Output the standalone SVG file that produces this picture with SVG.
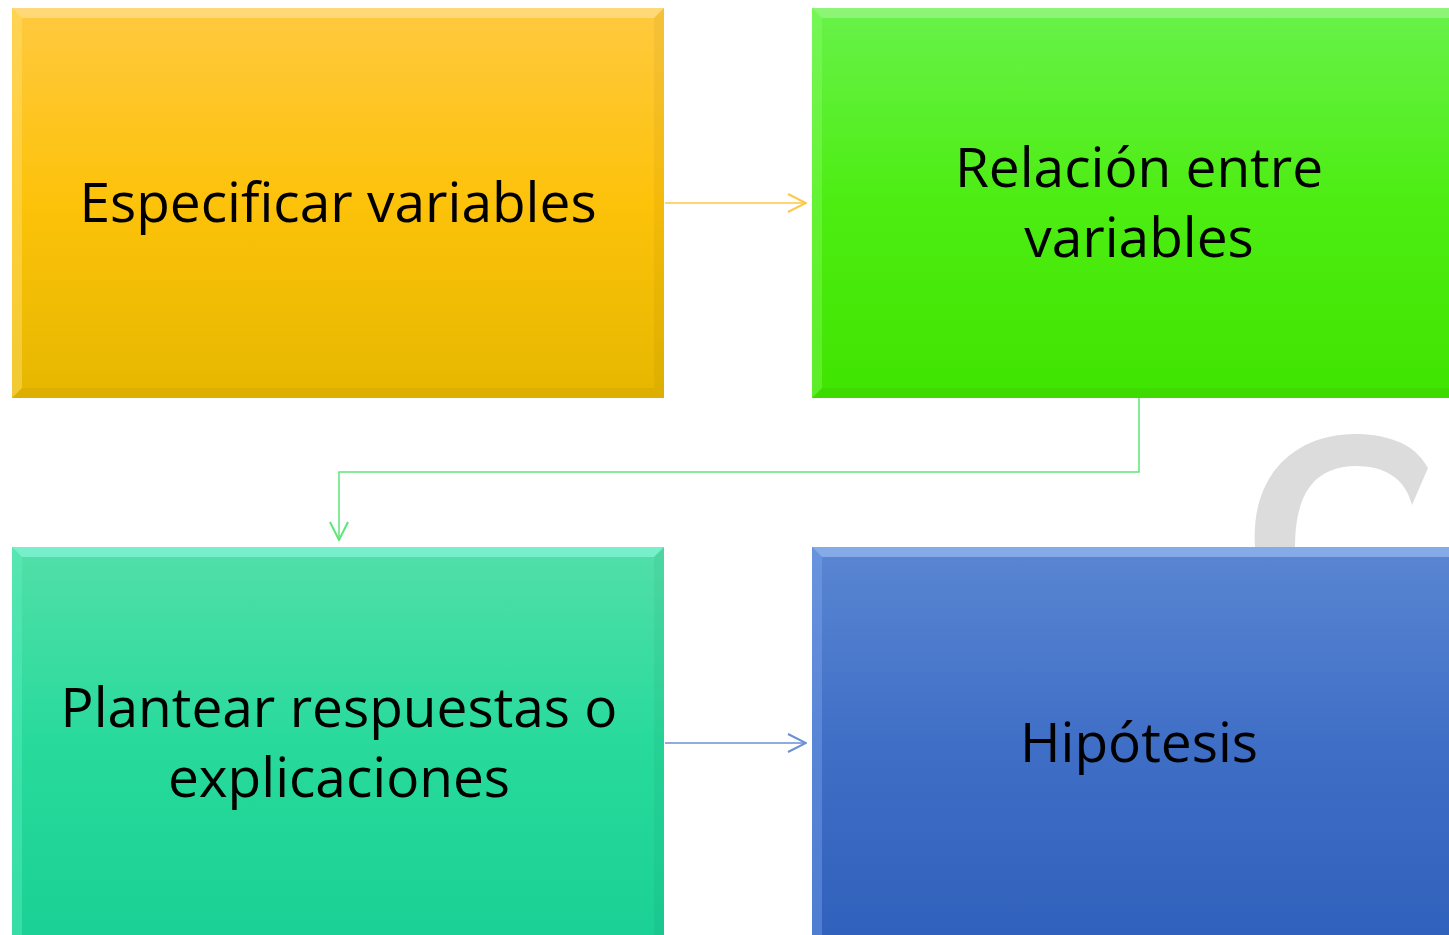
<svg xmlns="http://www.w3.org/2000/svg" width="1449" height="935" viewBox="0 0 1449 935">
<defs>
<linearGradient id="gY" x1="0" y1="0" x2="0" y2="1"><stop offset="0" stop-color="#ffc93f"/><stop offset="0.5" stop-color="#fdc20a"/><stop offset="1" stop-color="#e6b700"/></linearGradient>
<linearGradient id="gG" x1="0" y1="0" x2="0" y2="1"><stop offset="0" stop-color="#68f24a"/><stop offset="0.5" stop-color="#4ded12"/><stop offset="1" stop-color="#40e400"/></linearGradient>
<linearGradient id="gT" x1="0" y1="0" x2="0" y2="1"><stop offset="0" stop-color="#52dfa8"/><stop offset="0.5" stop-color="#27da9c"/><stop offset="1" stop-color="#1bd094"/></linearGradient>
<linearGradient id="gB" x1="0" y1="0" x2="0" y2="1"><stop offset="0" stop-color="#5a86d2"/><stop offset="0.5" stop-color="#3f6ec6"/><stop offset="1" stop-color="#2f60bb"/></linearGradient>
<marker id="ahY" viewBox="0 0 20 20" refX="19" refY="10" markerWidth="20" markerHeight="20" markerUnits="userSpaceOnUse" orient="auto"><path d="M1,1 L19,10 L1,19" fill="none" stroke="#fcc845" stroke-width="2"/></marker>
<marker id="ahG" viewBox="0 0 20 20" refX="19" refY="10" markerWidth="20" markerHeight="20" markerUnits="userSpaceOnUse" orient="auto"><path d="M1,1 L19,10 L1,19" fill="none" stroke="#5ee67a" stroke-width="2"/></marker>
<marker id="ahB" viewBox="0 0 20 20" refX="19" refY="10" markerWidth="20" markerHeight="20" markerUnits="userSpaceOnUse" orient="auto"><path d="M1,1 L19,10 L1,19" fill="none" stroke="#6a8fd6" stroke-width="2"/></marker>
</defs>
<style>
.lbl{font-family:"Open Sans","Liberation Sans",sans-serif;font-size:55px;fill:#000;text-anchor:middle}
.sh{fill:#000000;opacity:0.04}
.conn{fill:none;stroke-width:1.5}
</style>
<rect width="1449" height="935" fill="#ffffff"/>
<g id="watermark">
<path d="M1255,547 C1250,470 1300,432 1360,434 C1400,436 1418,450 1428,468 L1412,505 C1405,478 1385,466 1355,466 C1310,467 1295,500 1295,547 Z" fill="#dcdcdc"/>
</g>
<g id="node-especificar">
<rect x="12" y="8" width="652" height="390" fill="url(#gY)"/>
<polygon points="12,8 664,8 654,18 22,18" fill="#fff" opacity="0.3"/>
<polygon points="12,8 22,18 22,388 12,398" fill="#ffe070" opacity="0.45"/>
<polygon points="664,8 664,398 654,388 654,18" class="sh"/>
<polygon points="12,398 664,398 654,388 22,388" class="sh"/>
<text class="lbl" x="338" y="222">Especificar variables</text>
</g>
<g id="node-relacion">
<rect x="812" y="8" width="650" height="390" fill="url(#gG)"/>
<polygon points="812,8 1460,8 1450,18 822,18" fill="#fff" opacity="0.25"/>
<polygon points="812,8 822,18 822,388 812,398" fill="#90ff70" opacity="0.35"/>
<polygon points="812,398 1460,398 1450,388 822,388" class="sh"/>
<text class="lbl" x="1139" y="187">Relación entre</text>
<text class="lbl" x="1139" y="257">variables</text>
</g>
<g id="node-plantear">
<rect x="12" y="547" width="652" height="400" fill="url(#gT)"/>
<polygon points="12,547 664,547 654,557 22,557" fill="#a0fff0" opacity="0.5"/>
<polygon points="12,547 22,557 22,935 12,935" fill="#60f0c0" opacity="0.4"/>
<polygon points="664,547 664,935 654,935 654,557" class="sh"/>
<text class="lbl" x="339" y="727">Plantear respuestas o</text>
<text class="lbl" x="339" y="797">explicaciones</text>
</g>
<g id="node-hipotesis">
<rect x="812" y="547" width="650" height="400" fill="url(#gB)"/>
<polygon points="812,547 1460,547 1450,557 822,557" fill="#b0d0ff" opacity="0.5"/>
<polygon points="812,547 822,557 822,935 812,935" fill="#80a8f0" opacity="0.4"/>
<text class="lbl" x="1139" y="762">Hipótesis</text>
</g>
<g id="connectors">
<path d="M665,203 L806,203" class="conn" stroke="#fcc845" marker-end="url(#ahY)"/>
<path d="M1139,398 L1139,472 L339,472 L339,540" class="conn" stroke="#5ee67a" marker-end="url(#ahG)"/>
<path d="M665,743 L806,743" class="conn" stroke="#6a8fd6" marker-end="url(#ahB)"/>
</g>
</svg>
